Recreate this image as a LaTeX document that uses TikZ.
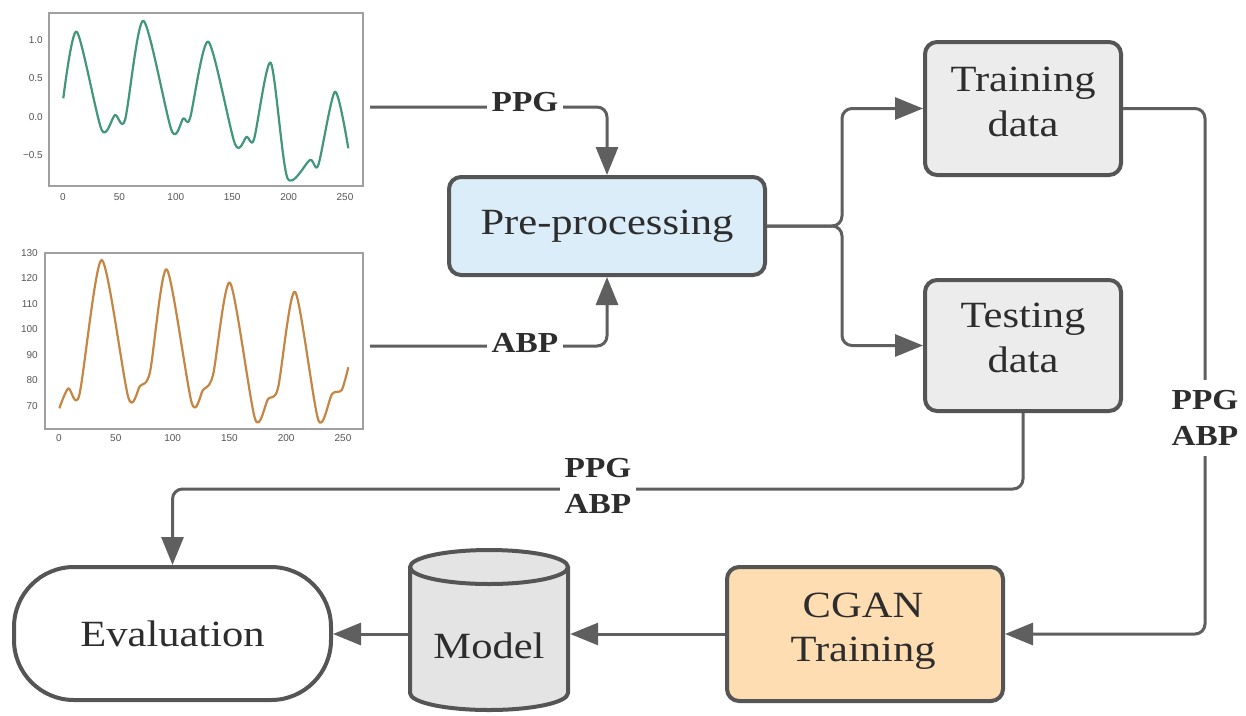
\documentclass[tikz,border=0pt]{standalone}
\usepackage{fontspec}
\setmainfont{Liberation Serif}[FakeStretch=1.15]
\newfontfamily\tickfont{Liberation Sans}
\usetikzlibrary{arrows.meta}

\definecolor{edge}{RGB}{85,85,85}
\definecolor{wire}{RGB}{95,95,95}
\definecolor{ink}{RGB}{45,45,45}
\definecolor{prefill}{RGB}{220,237,250}
\definecolor{datafill}{RGB}{236,236,236}
\definecolor{ganfill}{RGB}{254,221,178}
\definecolor{cylfill}{RGB}{228,228,228}
\definecolor{ppgline}{RGB}{66,150,122}
\definecolor{abpline}{RGB}{196,134,66}
\definecolor{axisgray}{RGB}{160,160,160}
\definecolor{ticktext}{RGB}{85,85,85}

\tikzset{
  procbox/.style={draw=edge, line width=4pt, rounded corners=12pt, inner sep=0pt},
  boxtext/.style={text=ink, font=\fontsize{37}{45}\selectfont, align=center, inner sep=0pt},
  gantext/.style={boxtext, font=\fontsize{37}{44}\selectfont},
  wirelabel/.style={fill=white, text=ink, font=\bfseries\fontsize{29}{36}\selectfont,
                    align=center, inner xsep=5pt, inner ysep=10pt},
  conn/.style={draw=wire, line width=3pt, rounded corners=10pt},
  arr/.style={conn, -{Triangle[length=28pt,width=22pt]}},
  plotframe/.style={draw=axisgray, line width=1.2pt},
  ticklbl/.style={font=\tickfont\fontsize{10}{11}\selectfont, text=ticktext, inner sep=0pt},
  signal/.style={line width=2.2pt, line join=round},
}

\begin{document}
\begin{tikzpicture}[x=1pt, y=-1pt]
\useasboundingbox (0,0) rectangle (1246,715);
\fill[white] (0,0) rectangle (1246,715);

% ---------- PPG signal plot ----------
\draw[plotframe] (49,13) rectangle (363,186);
\draw[ppgline, signal] plot[smooth, tension=0.45] coordinates {
  (63.3,98.3) (76.7,31.7) (101.7,130) (115,115) (125,120) (143.3,20.7)
  (171.7,130.7) (183.3,118.3) (190,118.3) (208.3,41.7) (235,144)
  (246.7,136.7) (254,139.3) (270.7,62.7) (287.3,177.7) (310,160)
  (318.3,165) (335,91.7) (348.3,148.3)};
\foreach \v/\lab [count=\i] in {1/1.0, 0.5/0.5, 0/0.0, -0.5/−0.5}
  \node[ticklbl, anchor=east] (ppgy\i) at (43,{117-77*\v}) {\lab};
\foreach \v [count=\i] in {0,50,100,150,200,250}
  \node[ticklbl] (ppgx\i) at ({63+1.128*\v},197) {\v};

% ---------- ABP signal plot ----------
\draw[plotframe] (45,253) rectangle (363,429);
\draw[abpline, signal] plot[smooth, tension=0.45] coordinates {
  (59.3,408.3) (68.3,388.3) (79.3,395) (101.7,260) (128.3,397.3)
  (140,386) (150,372) (166.7,269.3) (191.7,402.7) (203,390)
  (213,375) (230,282.7) (255,418.7) (268,399) (278,388)
  (295,291.7) (318.3,420) (332,394) (341.7,390) (348.3,367.3)};
\foreach \v [count=\i] in {70,80,90,100,110,120,130}
  \node[ticklbl, anchor=east] (abpy\i) at (38,{406-2.55*(\v-70)}) {\v};
\foreach \v [count=\i] in {0,50,100,150,200,250}
  \node[ticklbl] (abpx\i) at ({59+1.136*\v},438) {\v};

% ---------- process boxes ----------
\node[procbox, fill=prefill, minimum width=316pt, minimum height=98pt,
      text=ink, font=\fontsize{37}{45}\selectfont] (pre) at (607,226) {Pre-processing};
\node[procbox, fill=datafill, minimum width=196pt, minimum height=133pt] (train) at (1023,108.5) {};
\node[boxtext] (traintxt) at (1023,101.75) {Training\\data};
\node[procbox, fill=datafill, minimum width=196pt, minimum height=131pt] (test) at (1023,345.5) {};
\node[boxtext] (testtxt) at (1023,338.4) {Testing\\data};
\node[procbox, fill=ganfill, minimum width=276pt, minimum height=134pt] (cgan) at (865,634) {};
\node[gantext] (cgantxt) at (863,631.5) {CGAN\\Training};
\node[draw=edge, fill=white, line width=4pt, rounded corners=60pt, minimum width=317pt,
      minimum height=133pt, inner sep=0pt, text=ink, font=\fontsize{37}{45}\selectfont]
      (eval) at (172.5,633.5) {Evaluation};

% model store drawn as a cylinder
\fill[cylfill] (410,567) -- (410,693) arc[start angle=180, end angle=0, x radius=79, y radius=17]
  -- (568,567) arc[start angle=0, end angle=-180, x radius=79, y radius=17] -- cycle;
\draw[edge, line width=4pt] (410,567) -- (410,693) arc[start angle=180, end angle=0, x radius=79, y radius=17]
  -- (568,567);
\draw[edge, line width=4pt] (489,567) ellipse[x radius=79, y radius=17];
\node[text=ink, font=\fontsize{37}{45}\selectfont, minimum width=162pt, inner sep=0pt] (model) at (489,645.4) {Model};

% ---------- connectors ----------
\coordinate (ppgsrc) at (370,107);
\coordinate (abpsrc) at (370,346);
\coordinate (fork) at (842,226);
\coordinate (rbend) at (1205,634);
\coordinate (evtop) at (172.5,489);

\draw[arr] (ppgsrc) -| (pre.north);
\draw[arr] (abpsrc) -| (pre.south);
\draw[arr] (pre.east) -- (fork) |- (train.west);
\draw[arr] (pre.east) -- (fork) |- (test.west);
\draw[arr] (train.east) -| (rbend) -- (cgan.east);
\draw[arr] (test.south) |- (evtop) -- (eval.north);
\draw[arr] (cgan.west) -- (cgan.west -| model.east);
\draw[arr] (model.west |- cgan.west) -- (cgan.west -| eval.east);

\node[wirelabel] (lblppg) at (525,102.5) {PPG};
\node[wirelabel] (lblabp) at (525,343) {ABP};
\node[wirelabel] (lbltrain) at (1205,418) {PPG\\ABP};
\node[wirelabel] (lbltest) at (598,486) {PPG\\ABP};
\end{tikzpicture}
\end{document}
